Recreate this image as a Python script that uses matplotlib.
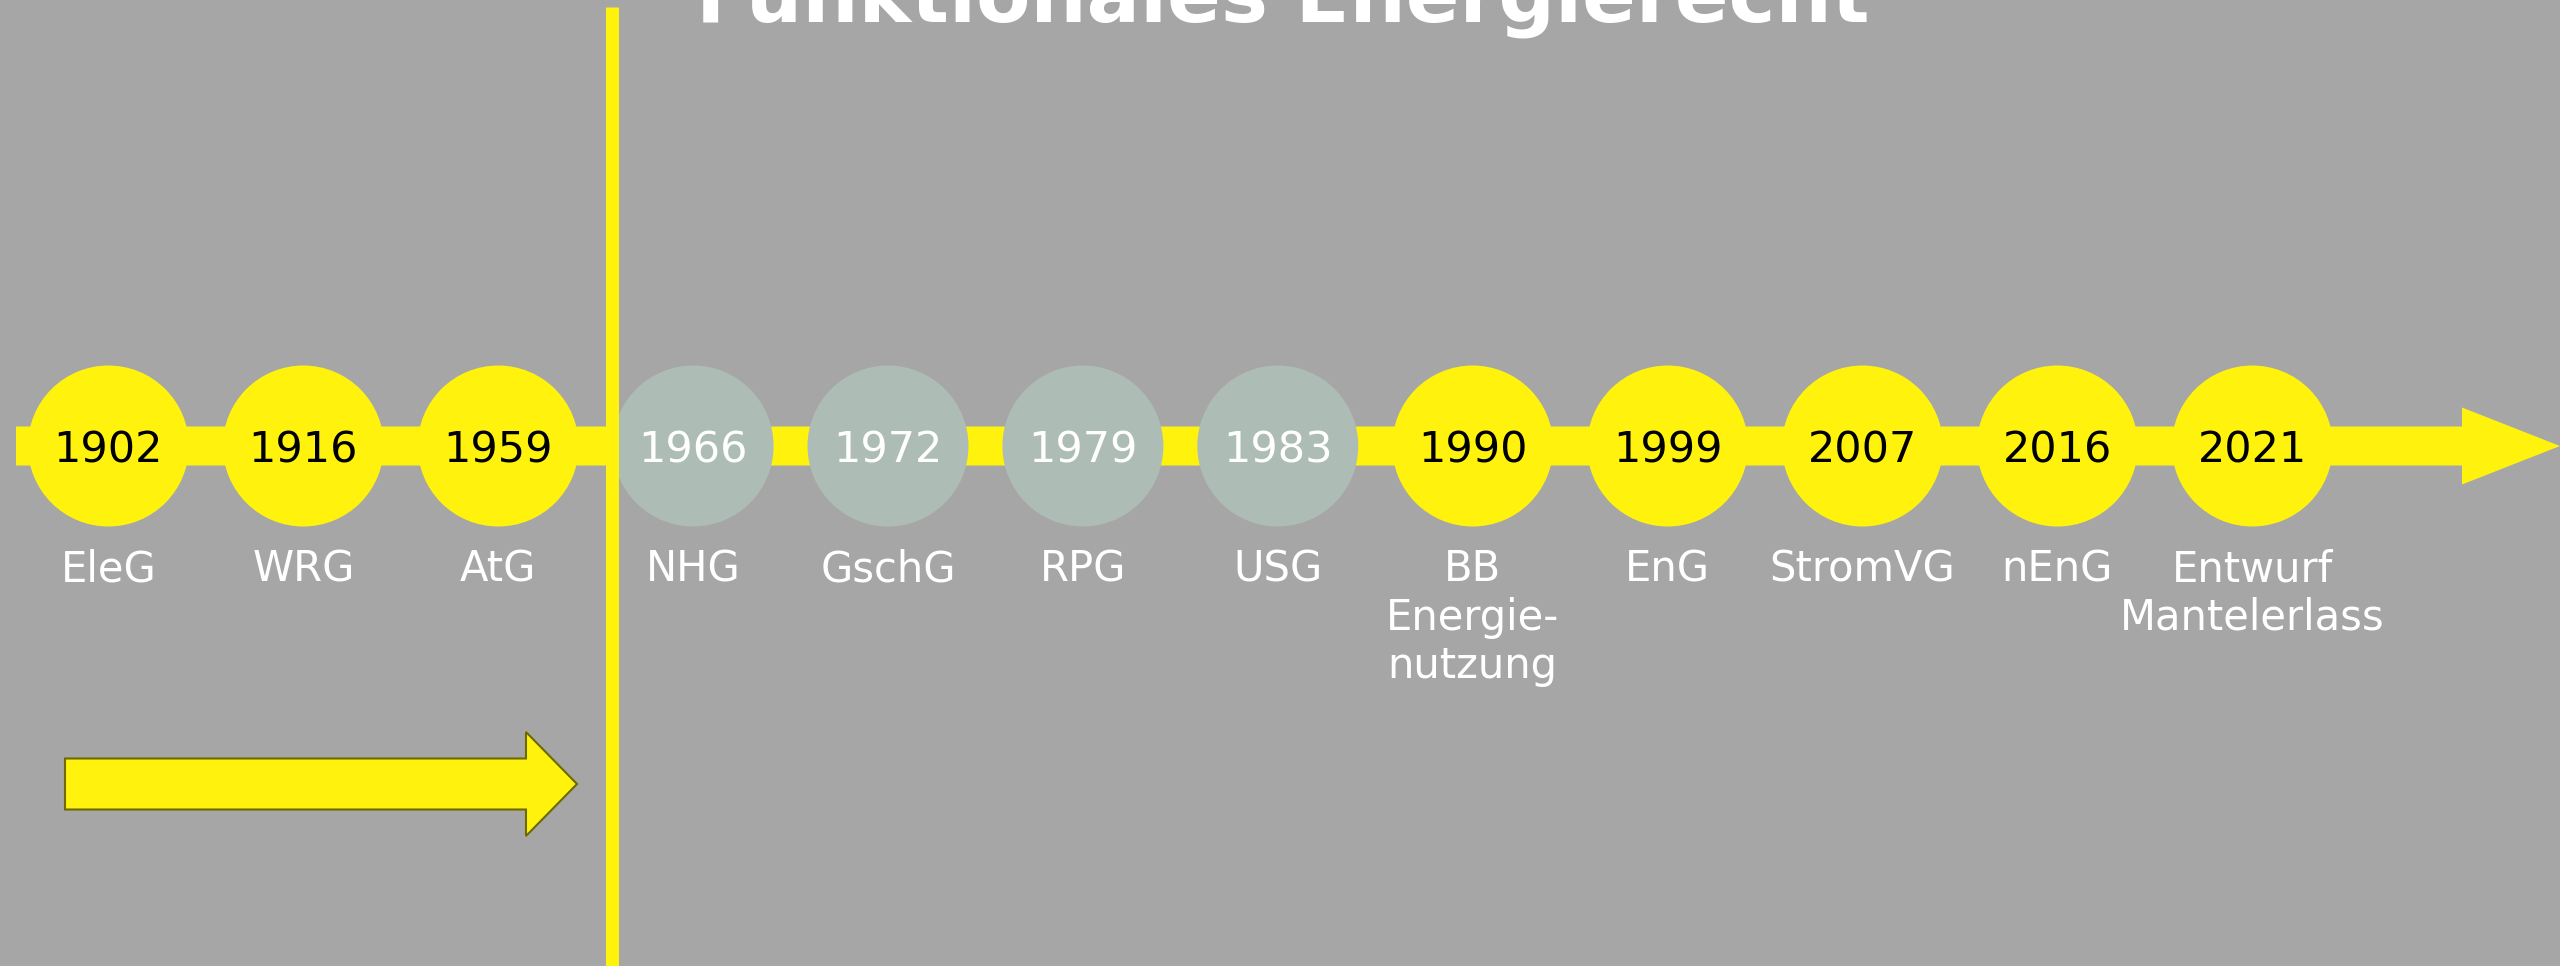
import numpy as np
import matplotlib.pyplot as plt
from matplotlib.patches import Circle, FancyArrow

# ---------------------------------------------------------------------------
# Timeline content
# ---------------------------------------------------------------------------
TITLE = "Funktionales Energierecht"
years = ["1902", "1916", "1959", "1966", "1972", "1979", "1983",
         "1990", "1999", "2007", "2016", "2021"]
laws = ["EleG", "WRG", "AtG", "NHG", "GschG", "RPG", "USG",
        "BB\nEnergie-\nnutzung", "EnG", "StromVG", "nEnG",
        "Entwurf\nMantelerlass"]
category = ["Energie", "Energie", "Energie",
            "Umwelt", "Umwelt", "Umwelt", "Umwelt",
            "Energie", "Energie", "Energie", "Energie", "Energie"]

# ---------------------------------------------------------------------------
# Styling
# ---------------------------------------------------------------------------
BG = "#A6A6A6"
YELLOW = "#FFF30D"
GREY_CIRCLE = "#ADBDB5"
OUTLINE = "#6E6A00"
fill_colors = {"Energie": YELLOW, "Umwelt": GREY_CIRCLE}
text_colors = {"Energie": "black", "Umwelt": "white"}

W_PX, H_PX = 2560, 966
STEP = 194.9        # pixels between two events
FIRST_X = 108.4     # pixel position of the first event
LINE_Y = 446        # pixel row of the timeline (from top)


def px(x_px, y_px):
    """Convert pixel position (from top-left) to data units."""
    return (x_px - FIRST_X) / STEP, (LINE_Y - y_px) / STEP


def main() -> None:
    fig = plt.figure(figsize=(W_PX / 100, H_PX / 100), dpi=100, facecolor=BG)
    ax = fig.add_axes([0, 0, 1, 1])
    ax.set_facecolor(BG)
    x0, y0 = px(0, H_PX)
    x1, y1 = px(W_PX, 0)
    ax.set_xlim(x0, x1)
    ax.set_ylim(y0, y1)
    ax.axis("off")

    # main timeline arrow
    xs, _ = px(16, 0)
    ax.add_patch(FancyArrow(xs, 0, x1 - xs, 0, width=39 / STEP,
                            head_width=77 / STEP, head_length=98 / STEP,
                            length_includes_head=True, color=YELLOW, lw=0,
                            zorder=1))

    positions = np.arange(len(years))
    radius = 80.5 / STEP
    _, label_y = px(0, 548)
    for x, year, law, cat in zip(positions, years, laws, category):
        ax.add_patch(Circle((x, 0), radius, color=fill_colors[cat], lw=0,
                            zorder=2))
        ax.text(x, 0, year, ha="center", va="center_baseline", fontsize=31,
                color=text_colors[cat], zorder=3)
        ax.text(x, label_y, law, ha="center", va="top", fontsize=30,
                color="white", linespacing=1.2, zorder=3)

    # divider between the two phases
    xd, ytop = px(611.5, 7)
    ax.plot([xd, xd], [ytop, y0], color=YELLOW, lw=9.4,
            solid_capstyle="butt", zorder=4)

    # small arrow bottom left
    ax0, ay = px(65, 784)
    ax1, _ = px(577, 784)
    ax.add_patch(FancyArrow(ax0, ay, ax1 - ax0, 0, width=51 / STEP,
                            head_width=104 / STEP, head_length=51 / STEP,
                            length_includes_head=True, facecolor=YELLOW,
                            edgecolor=OUTLINE, lw=1.5, zorder=3))

    # title, partly cut by the upper edge (as in the original slide)
    tx, ty = px(1283, 22)
    ax.text(tx, ty, TITLE, ha="center", va="baseline", fontsize=57,
            fontweight="bold", color="white", clip_on=False, zorder=5)

    fig.savefig("out.png", dpi=100, facecolor=BG)
    plt.close(fig)


if __name__ == "__main__":
    main()
